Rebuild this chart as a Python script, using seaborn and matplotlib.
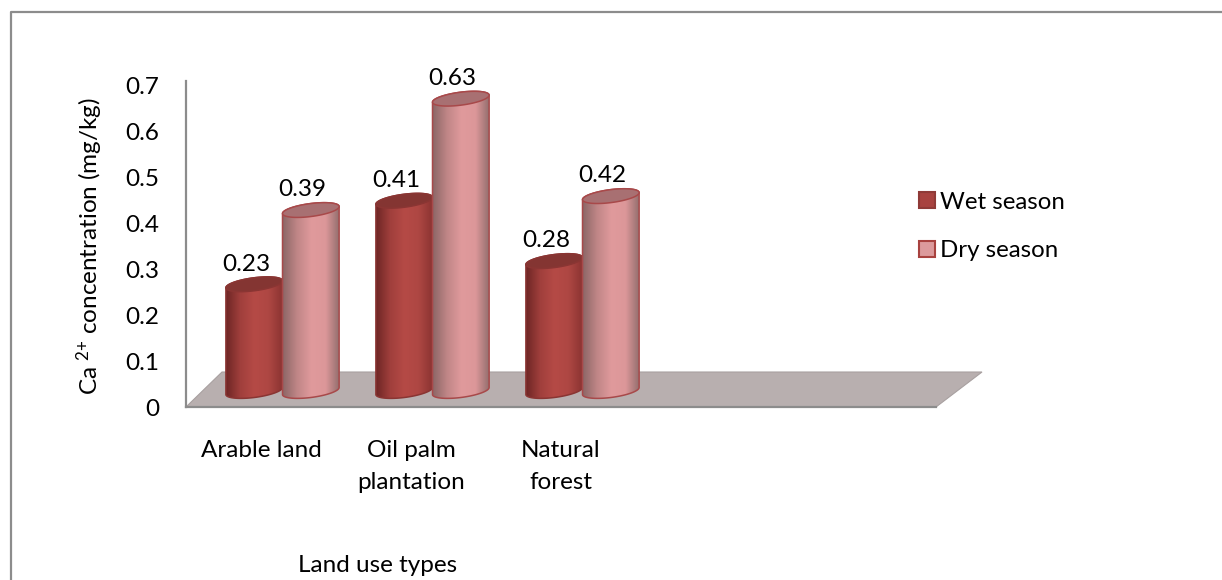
import numpy as np
import pandas as pd
import matplotlib
matplotlib.use("Agg")
import matplotlib.pyplot as plt
from matplotlib.colors import LinearSegmentedColormap
from matplotlib.patches import Patch, Polygon
import seaborn as sns

# data
land_use = ["Arable land", "Oil palm\nplantation", "Natural\nforest", " ", "  "]
wet_season = [0.23, 0.41, 0.28, np.nan, np.nan]
dry_season = [0.39, 0.63, 0.42, np.nan, np.nan]
y_ticks = [0, 0.1, 0.2, 0.3, 0.4, 0.5, 0.6, 0.7]
y_tick_labels = ["0", "0.1", "0.2", "0.3", "0.4", "0.5", "0.6", "0.7"]

W, H = 1222, 580
FS = 17.5

sns.set_theme(style="white")
plt.rcParams["font.family"] = ["Lato", "DejaVu Sans"]
plt.rcParams["mathtext.default"] = "regular"

df = pd.DataFrame({
    "land": land_use * 2,
    "season": ["Wet season"] * 5 + ["Dry season"] * 5,
    "value": wet_season + dry_season,
})


def box(left, top, right, bottom):
    return [left / W, 1 - bottom / H, (right - left) / W, (bottom - top) / H]


fig = plt.figure(figsize=(W / 100, H / 100), dpi=100, facecolor="white")

# outer chart frame, open on the right and at the bottom
frame = fig.add_axes([0, 0, 1, 1])
frame.set_xlim(0, W)
frame.set_ylim(H, 0)
frame.axis("off")
frame.plot([11, 11, W], [H, 12, 12], color="#8c8c8c", lw=1.6)

# front axes: the axis lines and the labels
ax = fig.add_axes(box(186, 81, 936, 407))
ax.patch.set_alpha(0)
ax.set_xlim(-0.5, 4.5)
ax.set_ylim(0, 326 / 460)
ax.set_yticks(y_ticks)
ax.set_yticklabels(y_tick_labels, fontsize=FS, color="black")
ax.set_xticks(range(5))
ax.set_xticklabels(land_use, fontsize=FS, color="black", linespacing=1.6, va="top")
ax.tick_params(axis="x", length=0, pad=24)
ax.tick_params(axis="y", length=0, pad=19)
ax.set_ylabel("Ca $^{2{+}}$ concentration (mg/kg)", fontsize=FS, color="black")
ax.yaxis.set_label_coords((105 - 186) / 750, 0.495)
ax.text((378 - 186) / 750, (407 - 566) / 326, "Land use types", transform=ax.transAxes,
        ha="center", va="center", fontsize=FS, color="black")
sns.despine(ax=ax, top=True, right=True)
for side in ["left", "bottom"]:
    ax.spines[side].set_color("#8c8c8c")
    ax.spines[side].set_linewidth(1.6)

# grey floor, in the frame axes which count in pixels
frame.add_patch(Polygon([[186, 407], [936, 407], [982, 372], [222, 372]], closed=True,
                        facecolor="#b8afaf", edgecolor="#a8a0a0", lw=0.8, zorder=1))

# bars live in their own axes, shifted back on to the floor
y_low = -0.03
bars = fig.add_axes(box(207.5, 391 - 0.7 * 464, 957.5, 391 - y_low * 464))
bars.patch.set_alpha(0)
sns.barplot(data=df, x="land", y="value", hue="season", order=land_use,
            hue_order=["Wet season", "Dry season"], width=0.755, dodge=True,
            legend=False, ax=bars)
bars.axis("off")

styles = [
    (["#6e2625", "#a03f3c", "#b54a46", "#ae4743", "#8a3331"], "#843532", "#8a3533", 3),
    (["#8d6767", "#c08687", "#e09a9c", "#dc9799", "#8f6c6c"], "#a87072", "#a8494a", 4),
]
per_y = 464
half_h = 6.5 / per_y
slant = 3.5 / per_y
t = np.linspace(0, 2 * np.pi, 120)

grad = np.linspace(0, 1, 256).reshape(1, -1)
for i, container in enumerate(bars.containers):
    cols, top_col, edge_col, z = styles[i]
    cmap = LinearSegmentedColormap.from_list("cyl", cols)
    for bar in container:
        h = bar.get_height()
        if np.isnan(h):
            continue
        bar.set_facecolor("none")
        bar.set_edgecolor("none")
        x0 = bar.get_x()
        w = bar.get_width()
        cx = x0 + w / 2
        a = w / 2
        # top and bottom rims are slightly tilted ellipses
        rim_x = cx + a * np.cos(t)
        rim_top = h + half_h * np.sin(t) + slant * np.cos(t)
        rim_low = half_h * np.sin(t) + slant * np.cos(t)
        low = t >= np.pi
        upper = t <= np.pi
        outline = np.vstack([
            np.column_stack([rim_x[upper], rim_top[upper]]),
            np.column_stack([rim_x[low], rim_low[low]]),
        ])
        body = Polygon(outline, closed=True, facecolor="none", edgecolor=edge_col,
                       lw=1.1, zorder=z + 0.2)
        bars.add_patch(body)
        img = bars.imshow(grad, cmap=cmap, extent=[x0, x0 + w, y_low, h + 0.05],
                          aspect="auto", zorder=z)
        img.set_clip_path(body)
        bars.add_patch(Polygon(np.column_stack([rim_x, rim_top]), closed=True,
                               facecolor=top_col, edgecolor=edge_col, lw=1.1, zorder=z + 0.4))
        bars.annotate(f"{h:.2f}", (cx, h), xytext=(-6, 14.5), textcoords="offset points",
                      ha="center", va="center", fontsize=FS, color="black", zorder=10)
bars.set_xlim(-0.5, 4.5)
bars.set_ylim(y_low, 0.7)

# legend
handles = [
    Patch(facecolor="#a8423f", edgecolor="#8f3a37", lw=1.5, label="Wet season"),
    Patch(facecolor="#dc9a9c", edgecolor="#a8423f", lw=1.5, label="Dry season"),
]
frame.legend(handles=handles, loc="center left", bbox_to_anchor=(919, 226.5),
             bbox_transform=frame.transData, frameon=False, fontsize=FS - 0.2,
             borderpad=0, borderaxespad=0, handlelength=0.66, handleheight=0.66,
             handletextpad=0.22, labelspacing=1.15, labelcolor="black")

fig.savefig("out.png", dpi=100)
